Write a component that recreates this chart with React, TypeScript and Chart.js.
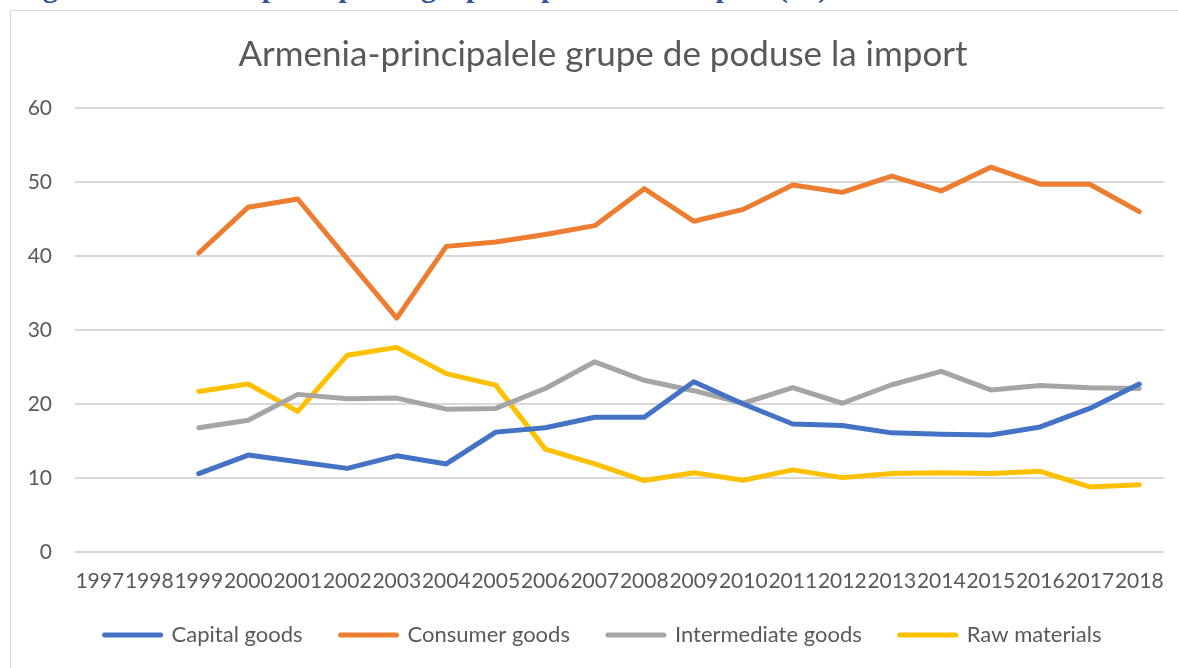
import React, { useEffect, useRef } from "react";
import { Chart, registerables } from "chart.js";

Chart.register(...registerables);

const years = ["1997", "1998", "1999", "2000", "2001", "2002", "2003", "2004", "2005", "2006", "2007", "2008", "2009", "2010", "2011", "2012", "2013", "2014", "2015", "2016", "2017", "2018"];
const capitalGoods = [null, null, 10.6, 13.1, 12.2, 11.3, 13.0, 11.9, 16.2, 16.8, 18.2, 18.2, 23.0, 20.0, 17.3, 17.1, 16.1, 15.9, 15.8, 16.9, 19.4, 22.7];
const consumerGoods = [null, null, 40.4, 46.6, 47.7, 39.6, 31.6, 41.3, 41.9, 42.9, 44.1, 49.1, 44.7, 46.3, 49.6, 48.6, 50.8, 48.8, 52.0, 49.7, 49.7, 46.0];
const intermediateGoods = [null, null, 16.8, 17.8, 21.3, 20.7, 20.8, 19.3, 19.4, 22.1, 25.7, 23.2, 21.8, 20.1, 22.2, 20.1, 22.6, 24.4, 21.9, 22.5, 22.2, 22.1];
const rawMaterials = [null, null, 21.7, 22.7, 19.0, 26.6, 27.65, 24.1, 22.55, 13.9, 11.9, 9.65, 10.7, 9.7, 11.1, 10.05, 10.6, 10.7, 10.6, 10.9, 8.8, 9.1];
const seriesNames = ["Capital goods", "Consumer goods", "Intermediate goods", "Raw materials"];
const seriesColors = ["#4472C4", "#ED7D31", "#A5A5A5", "#FFC000"];
const chartTitle = "Armenia-principalele grupe de poduse la import";
const captionText = "Figura 3. Armenia-principalele grupe de produse la import (%)";

const legendShift = {
  id: "legendShift",
  afterLayout(chart: any) {
    if (chart.legend) {
      chart.legend.top -= 28;
      chart.legend.bottom -= 28;
    }
  },
};

export default function App() {
  const canvasRef = useRef<HTMLCanvasElement | null>(null);

  useEffect(() => {
    if (!canvasRef.current) return;
    const seriesData = [capitalGoods, consumerGoods, intermediateGoods, rawMaterials];
    const chart = new Chart(canvasRef.current, {
      type: "line",
      data: {
        labels: years,
        datasets: seriesData.map((d, i) => ({
          label: seriesNames[i],
          data: d,
          borderColor: seriesColors[i],
          backgroundColor: seriesColors[i],
          borderWidth: 5,
          borderJoinStyle: "round",
          borderCapStyle: "round",
          pointRadius: 0,
          pointHoverRadius: 0,
          tension: 0,
          fill: false,
          spanGaps: false,
          yAxisID: "y",
        })),
      },
      plugins: [legendShift],
      options: {
        responsive: true,
        maintainAspectRatio: false,
        animation: false,
        devicePixelRatio: 1,
        layout: { padding: { left: 12, right: 8, top: 0, bottom: 0 } },
        plugins: {
          tooltip: { enabled: false },
          title: {
            display: true,
            text: chartTitle,
            color: "#595959",
            font: { family: "Lato", size: 35, weight: "normal", lineHeight: 1.2 },
            padding: { top: 23, bottom: 32 },
          },
          legend: {
            display: true,
            position: "bottom",
            labels: {
              color: "#595959",
              font: { family: "Lato", size: 22 },
              usePointStyle: true,
              pointStyle: "line",
              pointStyleWidth: 56,
              padding: 38,
              generateLabels: (chart: any) =>
                Chart.defaults.plugins.legend.labels.generateLabels(chart).map((l: any) => ({
                  ...l,
                  lineCap: "round",
                  lineWidth: 5,
                  strokeStyle: seriesColors[l.datasetIndex],
                  pointStyle: "line",
                })),
            },
          },
        },
        scales: {
          x: {
            offset: true,
            grid: { display: false, drawTicks: false },
            border: { display: false },
            ticks: {
              color: "#595959",
              font: { family: "Lato", size: 21 },
              autoSkip: false,
              maxRotation: 0,
              minRotation: 0,
              padding: 17,
            },
            afterFit: (scale: any) => {
              scale.height = 62;
            },
          },
          y: {
            min: 0,
            max: 60,
            grid: { color: "#D9D9D9", lineWidth: 2, drawTicks: false },
            border: { display: false },
            ticks: {
              stepSize: 10,
              color: "#595959",
              font: { family: "Lato", size: 21 },
              padding: 23,
            },
            afterFit: (scale: any) => {
              scale.width = 52;
            },
          },
          y2: {
            position: "right",
            display: true,
            grid: { display: false, drawTicks: false },
            border: { display: false },
            ticks: { display: false },
            afterFit: (scale: any) => {
              scale.width = 19;
            },
          },
        },
      },
    });
    return () => chart.destroy();
  }, []);

  return (
    <div style={{ position: "fixed", left: 0, top: 0, width: 1178, height: 668, overflow: "hidden", background: "#fff" }}>
      <div
        style={{
          position: "absolute",
          left: 16,
          top: -28,
          fontFamily: "'Liberation Serif', serif",
          fontWeight: "bold",
          fontSize: 30,
          lineHeight: "30px",
          color: "#2F5597",
          whiteSpace: "nowrap",
        }}
      >
        {captionText}
      </div>
      <div
        style={{
          position: "absolute",
          left: 10,
          top: 10,
          width: 1220,
          height: 720,
          border: "1px solid #D9D9D9",
          background: "#fff",
        }}
      >
        <div style={{ position: "absolute", left: 0, top: 0, width: 1180, height: 673 }}>
          <canvas ref={canvasRef} />
        </div>
      </div>
    </div>
  );
}
